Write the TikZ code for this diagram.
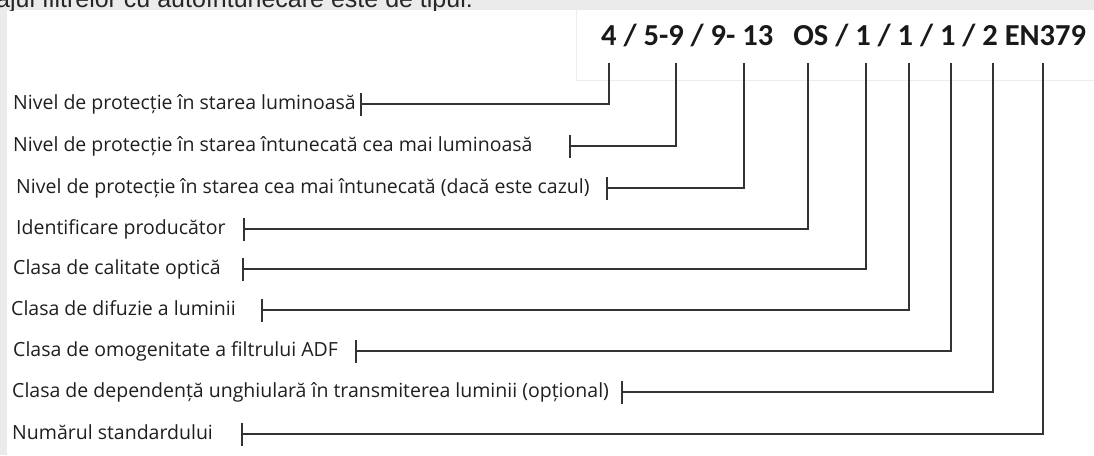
\documentclass[tikz,border=0pt]{standalone}
\usepackage{fontspec}
\setmainfont{Open Sans}
\newfontfamily\codefont{Carlito}
\newfontfamily\introfont{Liberation Sans}
\usetikzlibrary{arrows.meta}

\begin{document}
\begin{tikzpicture}[x=1pt, y=-1pt,
    link/.style={draw=black!80, line width=1.7pt, line join=miter,
        {Bar[width=23pt, line width=1.7pt]}-},
    desc/.style={anchor=base west, inner sep=0pt, text=black!88,
        font=\fontsize{19.5}{22}\selectfont},
    band/.style={fill=black!8}]
    \useasboundingbox (0,0) rectangle (1094,455);

    % Grey page edges and the cut intro line
    \fill[band] (0,0) rectangle (1094,10);
    \fill[band] (0,10) rectangle (7,455);
    \begin{scope}
        \clip (0,0) rectangle (1094,10);
        \node[anchor=base west, inner sep=0pt, text=black!85,
            font=\introfont\fontsize{25}{27}\selectfont] (intro) at (-4,7)
            {ajul filtrelor cu autoîntunecare este de tipul:};
    \end{scope}

    % Marking panel
    \draw[draw=black!7, fill=white] (576.5,10) -- (576.5,80.5) -- (1100,80.5);
    \node[anchor=base west, inner sep=0pt, text=black!90,
        font=\codefont\bfseries\fontsize{30.5}{32}\selectfont] (code) at (601,45)
        {4 / 5-9 / 9- 13\hspace{20pt}OS / 1 / 1 / 1 / 2 EN379};

    % Labels and their leaders
    \foreach \i/\lx/\ly/\tx/\vx/\txt in {
        1/13/104/360/609/{Nivel de protecție în starea luminoasă},
        2/13/146/569/676/{Nivel de protecție în starea întunecată cea mai luminoasă},
        3/16/188/606/744/{Nivel de protecție în starea cea mai întunecată (dacă este cazul)},
        4/16/229/243/808/{Identificare producător},
        5/13/269/242/866/{Clasa de calitate optică},
        6/11/310/261/909/{Clasa de difuzie a luminii},
        7/13/351/355/951/{Clasa de omogenitate a filtrului ADF},
        8/12/392/621/993/{Clasa de dependență unghiulară în transmiterea luminii (opțional)},
        9/12/434/241/1043/{Numărul standardului}} {
        \node[desc] (desc\i) at (\lx,\ly+5) {\txt};
        \coordinate (s\i) at (\tx,\ly);
        \coordinate (t\i) at (\vx,63);
        \draw[link] (s\i) -| (t\i);
    }
\end{tikzpicture}
\end{document}
